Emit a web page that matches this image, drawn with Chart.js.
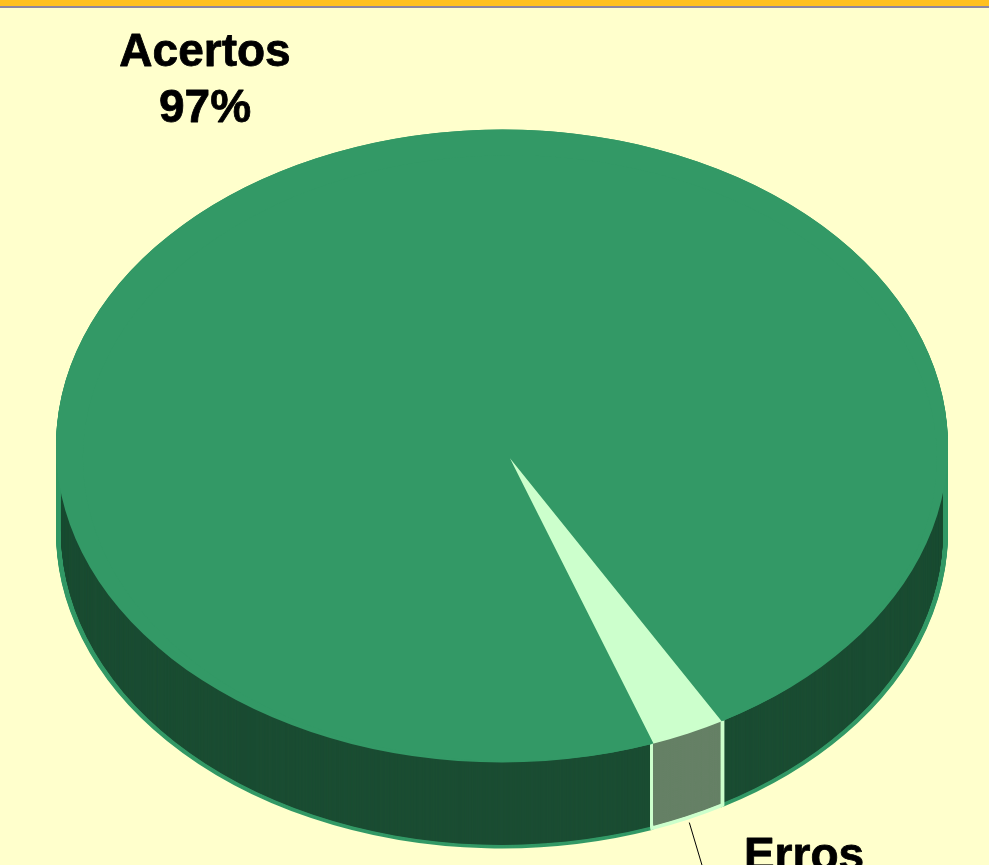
<!DOCTYPE html>
<html>
<head>
<meta charset="utf-8">
<title>Acertos e Erros</title>
<script src="https://cdn.jsdelivr.net/npm/chart.js@4"></script>
<style>
  html, body { margin: 0; height: 100%; overflow: hidden; background: #ffffcc; }
  .topbar { position: absolute; left: 0; right: 0; top: 0; z-index: 2; height: 6px; background: #ffc020; border-bottom: 2px solid #8c86a0; }
  #pie { position: absolute; left: 0; top: 0; }
</style>
</head>
<body>
<div class="topbar"></div>
<canvas id="pie" width="989" height="950"></canvas>
<script>
// data (labels on the picture round these to 97% and 3%)
const categories = ["Acertos", "Erros"];
const values = [97.2, 2.8];

// colours: top, side wall, outline
const faceColors = ["#339966", "#ccffcc"];
const sideColors = ["#1b4d33", "#668066"];
const edgeColors = ["#339966", "#ccffcc"];

// fake 3D settings
const squash = 0.7096;
const depth = 86;
const apexShift = 19; // the tip of the wedge sits a bit nearer the viewer
const edgeWidth = 5;

function arcLayer(el, color, border, y, dx, radiusCut) {
  const a = new Chart.elements.ArcElement({
    x: el.x + (dx || 0),
    y: y,
    startAngle: el.startAngle,
    endAngle: el.endAngle,
    circumference: el.circumference,
    innerRadius: 0,
    outerRadius: el.outerRadius - (radiusCut || 0),
  });
  a.options = {
    backgroundColor: color,
    borderColor: border || color,
    borderWidth: border ? edgeWidth : 0,
    borderAlign: "center",
    borderJoinStyle: "round",
    borderRadius: 0,
    borderDash: [],
    borderDashOffset: 0,
    circular: true,
    offset: 0,
    spacing: 0,
  };
  return a;
}

// one slice's wall: outline first, then the darker fill inside it
function drawWall(ctx, el, i, edgeClip, fillClip) {
  const cy = el.y;
  ctx.save();
  if (edgeClip) {
    ctx.beginPath();
    ctx.rect(edgeClip[0], 0, edgeClip[1] - edgeClip[0], 2000);
    ctx.clip();
  }
  for (let d = depth; d >= 0; d--) {
    arcLayer(el, edgeColors[i], edgeColors[i], cy + d / squash, 0, edgeWidth / 2).draw(ctx);
  }
  ctx.restore();
  ctx.save();
  if (fillClip) {
    ctx.beginPath();
    ctx.rect(fillClip[0], 0, fillClip[1] - fillClip[0], 2000);
    ctx.clip();
  }
  for (let d = depth; d >= 0; d -= 0.5) {
    arcLayer(el, sideColors[i], null, cy + d / squash, 0, edgeWidth).draw(ctx);
  }
  ctx.restore();
}

const pie3d = {
  id: "pie3d",
  beforeDatasetsDraw(chart) {
    const ctx = chart.ctx;
    const arcs = chart.getDatasetMeta(0).data;
    const cy = arcs[0].y;
    ctx.save();
    ctx.translate(0, cy);
    ctx.scale(1, squash);
    ctx.translate(0, -cy);
    const erros = arcs[1];
    const x1 = erros.x + Math.cos(erros.endAngle) * erros.outerRadius;
    const x2 = erros.x + Math.cos(erros.startAngle) * erros.outerRadius;
    drawWall(ctx, arcs[0], 0);
    // the Erros wall only goes straight down from its own rim
    drawWall(ctx, erros, 1, [x1 - 1.5, x2 + 1.5], [x1 + 1.5, x2 - 1.5]);
  },
  afterDatasetsDraw(chart) {
    const ctx = chart.ctx;
    const arcs = chart.getDatasetMeta(0).data;
    const erros = arcs[1];
    const mid = (erros.startAngle + erros.endAngle) / 2;
    // Acertos again, moved along the wedge, hides the tip of the light slice
    arcLayer(arcs[0], faceColors[0], null, arcs[0].y + Math.sin(mid) * apexShift, Math.cos(mid) * apexShift, apexShift).draw(ctx);
    ctx.restore();
  },
  afterDraw(chart) {
    const ctx = chart.ctx;
    const arcs = chart.getDatasetMeta(0).data;
    const total = values.reduce((a, b) => a + b, 0);
    ctx.save();
    // leader line from the rim of the Erros slice
    const erros = arcs[1];
    const mid = (erros.startAngle + erros.endAngle) / 2;
    const lx = erros.x + Math.cos(mid) * erros.outerRadius;
    const ly = erros.y + Math.sin(mid) * erros.outerRadius * squash + depth;
    ctx.strokeStyle = "#000";
    ctx.lineWidth = 1;
    ctx.beginPath();
    ctx.moveTo(lx + 1, ly + 3);
    ctx.lineTo(lx + 15, ly + 50);
    ctx.stroke();
    // labels
    ctx.fillStyle = "#000";
    ctx.strokeStyle = "#000";
    ctx.lineWidth = 0.8;
    ctx.lineJoin = "round";
    ctx.font = "bold 46px 'Liberation Sans', Arial, sans-serif";
    ctx.textAlign = "center";
    ctx.textBaseline = "alphabetic";
    const spots = [{ x: 205, y: 66 }, { x: 804, y: 870 }];
    categories.forEach((name, i) => {
      const pct = Math.round((values[i] / total) * 100) + "%";
      ctx.fillText(name, spots[i].x, spots[i].y);
      ctx.strokeText(name, spots[i].x, spots[i].y);
      ctx.fillText(pct, spots[i].x, spots[i].y + 56);
      ctx.strokeText(pct, spots[i].x, spots[i].y + 56);
    });
    ctx.restore();
  },
};

new Chart(document.getElementById("pie").getContext("2d"), {
  type: "pie",
  data: {
    labels: categories,
    datasets: [
      {
        data: values,
        backgroundColor: faceColors,
        borderWidth: 0,
        clip: false,
      },
    ],
  },
  options: {
    responsive: false,
    animation: false,
    rotation: 160.35,
    layout: { padding: { left: 56, right: 41, top: 0, bottom: 58 } },
    plugins: { legend: { display: false }, tooltip: { enabled: false } },
  },
  plugins: [pie3d],
});
</script>
</body>
</html>
